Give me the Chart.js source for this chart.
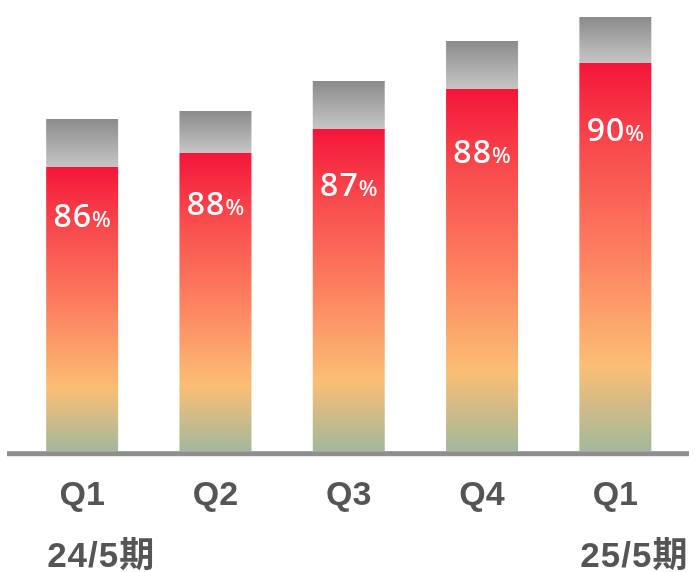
<!DOCTYPE html>
<html>
<head>
<meta charset="utf-8">
<script src="https://cdn.jsdelivr.net/npm/chart.js@4.4.1/dist/chart.umd.min.js"></script>
<style>
    html, body { margin: 0; padding: 0; background: #fff; }
    #wrap { position: relative; width: 695px; height: 572px; }
</style>
</head>
<body>
<div id="wrap"><canvas id="shareChart"></canvas></div>
<script>
// datos
const quarters = ['Q1', 'Q2', 'Q3', 'Q4', 'Q1'];
const periods = ['24/5期', '', '', '', '25/5期'];
const redValues = [284, 298, 322, 362, 388];
const grayValues = [48, 42, 48, 48, 46];
const shares = [86, 88, 87, 88, 90];
const yMax = 451;

document.addEventListener("DOMContentLoaded", function() {
    if (typeof Chart === 'undefined') {
        console.error("Chart.js no está cargado.");
        return;
    }

    // gradiente por barra, desde el tope hasta la base
    function barGradient(context, stops) {
        const chart = context.chart;
        if (!chart.chartArea || context.type !== 'data') return stops[0][1];
        const y = chart.scales.y;
        const i = context.dataIndex;
        let from = 0, to = redValues[i];
        if (context.datasetIndex === 1) { from = redValues[i]; to = redValues[i] + grayValues[i]; }
        const top = y.getPixelForValue(to);
        const bottom = y.getPixelForValue(from);
        const g = chart.ctx.createLinearGradient(0, top, 0, bottom);
        stops.forEach(s => g.addColorStop(s[0], s[1]));
        return g;
    }

    const redStops = [[0, '#f4163a'], [0.2, '#f8464b'], [0.5, '#fd8160'], [0.78, '#fbbe74'], [1, '#a2b89c']];
    const grayStops = [[0, '#8b8b8b'], [1, '#c6c6c6']];

    const baselinePlugin = {
        id: 'baseline',
        afterDatasetsDraw(chart) {
            const ctx = chart.ctx;
            const y0 = chart.scales.y.getPixelForValue(0);
            ctx.save();
            ctx.fillStyle = '#8e8e8e';
            ctx.fillRect(7, y0, 682, 5);
            ctx.restore();
        }
    };

    const shareLabels = {
        id: 'shareLabels',
        afterDatasetsDraw(chart) {
            const ctx = chart.ctx;
            const meta = chart.getDatasetMeta(0);
            ctx.save();
            ctx.fillStyle = '#ffffff';
            ctx.textBaseline = 'middle';
            ctx.textAlign = 'left';
            meta.data.forEach((bar, i) => {
                const num = String(shares[i]);
                const numFont = '500 32px "Noto Sans", "Liberation Sans", sans-serif';
                const pctFont = '500 22px "Noto Sans", "Liberation Sans", sans-serif';
                ctx.font = numFont;
                ctx.letterSpacing = '1px';
                const w1 = ctx.measureText(num).width;
                ctx.font = pctFont;
                ctx.letterSpacing = '0px';
                const w2 = ctx.measureText('%').width;
                const x = bar.x - (w1 + w2) / 2;
                const cy = bar.y + 0.178 * (bar.base - bar.y);
                ctx.font = numFont;
                ctx.letterSpacing = '1px';
                ctx.fillText(num, x, cy);
                ctx.font = pctFont;
                ctx.letterSpacing = '0px';
                ctx.fillText('%', x + w1, cy + 3);
            });
            ctx.restore();
        }
    };

    const periodLabels = {
        id: 'periodLabels',
        afterDraw(chart) {
            const ctx = chart.ctx;
            const meta = chart.getDatasetMeta(0);
            ctx.save();
            ctx.fillStyle = '#555555';
            ctx.textBaseline = 'alphabetic';
            ctx.textAlign = 'left';
            ctx.font = 'bold 35px "Liberation Sans", "Noto Sans CJK JP", sans-serif';
            ctx.letterSpacing = '1px';
            meta.data.forEach((bar, i) => {
                if (!periods[i]) return;
                ctx.fillText(periods[i], bar.x - bar.width / 2 + 1, 567);
            });
            ctx.restore();
        }
    };

    const ctx = document.getElementById('shareChart').getContext('2d');
    new Chart(ctx, {
        type: 'bar',
        data: {
            labels: quarters,
            datasets: [{
                label: 'share',
                data: redValues,
                backgroundColor: c => barGradient(c, redStops),
                borderWidth: 0
            }, {
                label: 'rest',
                data: grayValues,
                backgroundColor: c => barGradient(c, grayStops),
                borderWidth: 0
            }]
        },
        options: {
            responsive: true,
            maintainAspectRatio: false,
            animation: false,
            layout: { padding: { left: 15.5, right: 13, top: 0, bottom: 32 } },
            datasets: {
                bar: { categoryPercentage: 1, barPercentage: 0.54 }
            },
            scales: {
                x: {
                    stacked: true,
                    grid: { display: false, drawTicks: false },
                    border: { display: false },
                    ticks: {
                        color: '#555555',
                        padding: 24,
                        font: { family: '"Liberation Sans", Arial, sans-serif', size: 34, weight: 'bold' }
                    }
                },
                y: {
                    stacked: true,
                    display: false,
                    min: 0,
                    max: yMax
                }
            },
            plugins: {
                legend: { display: false },
                tooltip: { enabled: false }
            }
        },
        plugins: [baselinePlugin, shareLabels, periodLabels]
    });
});
</script>
</body>
</html>
